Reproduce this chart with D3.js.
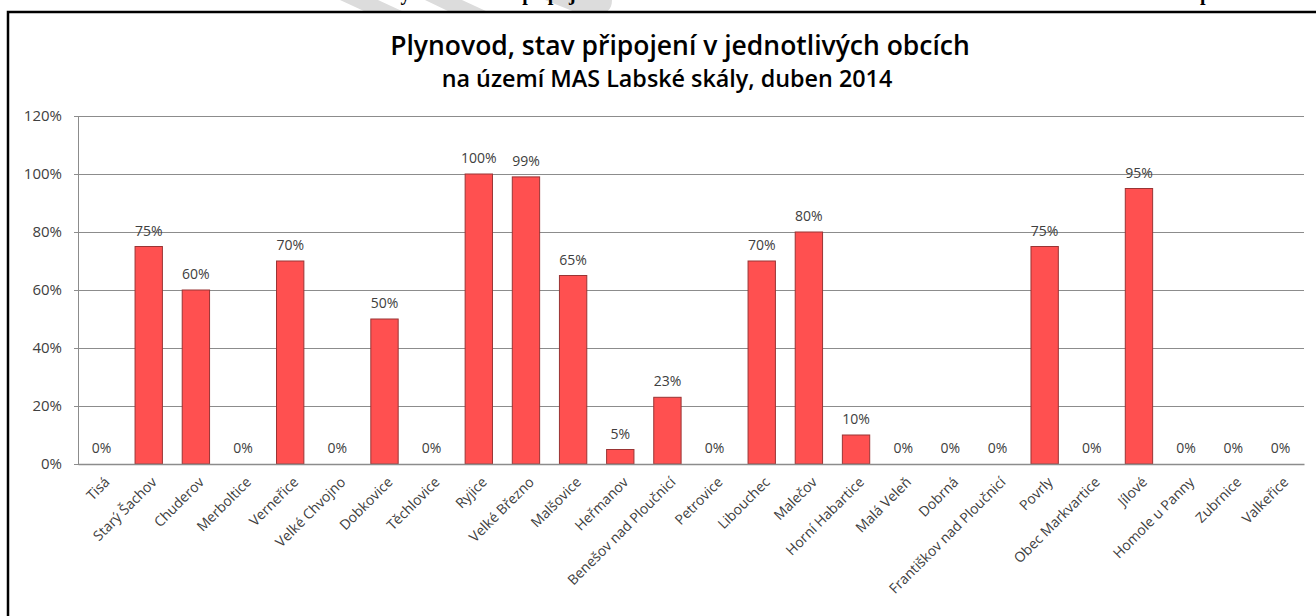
<!DOCTYPE html>
<html>
<head>
<meta charset="utf-8">
<script src="https://cdn.jsdelivr.net/npm/d3@7"></script>
<style>
  html, body { margin: 0; padding: 0; background: #ffffff; }
  svg { display: block; }
  text { font-family: "Open Sans", "DejaVu Sans", sans-serif; }
</style>
</head>
<body>
<svg id="chart" width="1316" height="616"></svg>
<script>
// ---------------- data ----------------
const categories = [
  "Tisá", "Starý Šachov", "Chuderov", "Merboltice", "Verneřice", "Velké Chvojno",
  "Dobkovice", "Těchlovice", "Ryjice", "Velké Březno", "Malšovice", "Heřmanov",
  "Benešov nad Ploučnicí", "Petrovice", "Libouchec", "Malečov", "Horní Habartice",
  "Malá Veleň", "Dobrná", "Františkov nad Ploučnicí", "Povrly", "Obec Markvartice",
  "Jílové", "Homole u Panny", "Zubrnice", "Valkeřice"
];
const values = [0, 75, 60, 0, 70, 0, 50, 0, 100, 99, 65, 5, 23, 0, 70, 80, 10, 0, 0, 0, 75, 0, 95, 0, 0, 0];
const yTicks = [0, 20, 40, 60, 80, 100, 120];
const titleLines = ["Plynovod, stav připojení v jednotlivých obcích", "na území MAS Labské skály, duben 2014"];
const pageHeadingA = "Graf 7: Plynovod – stav připojení v obcích na území MAS";
const pageHeadingB = "podle obcí";

// ---------------- layout ----------------
const svg = d3.select("#chart");
const plot = { left: 78, right: 1304, top: 116, bottom: 464 };

const x = d3.scaleBand()
  .domain(categories)
  .range([plot.left, plot.right])
  .paddingInner(0.42)
  .paddingOuter(0.21);

const y = d3.scaleLinear()
  .domain([0, 120])
  .range([plot.bottom, plot.top]);

// page background remnants above the chart box (watermark + cut heading of the page)
const headG = svg.append("g");
headG.append("clipPath").attr("id", "topclip")
  .append("rect").attr("x", 0).attr("y", 0).attr("width", 1316).attr("height", 11);
const headClip = headG.append("g").attr("clip-path", "url(#topclip)");
headClip.append("path").attr("fill", "#dcdcdc")
  .attr("d", "M340,0 L378,0 L404,12 L366,12 Z M425,0 L462,0 L488,12 L450,12 Z M545,0 L612,0 C612,6 610,10 606,12 L575,12 Z");
headClip.append("text")
  .attr("x", 315).attr("y", 0)
  .style("font-family", "'Liberation Serif', 'DejaVu Serif', serif")
  .style("font-weight", "bold")
  .style("font-size", "20px")
  .attr("fill", "#000")
  .text(pageHeadingA);
headClip.append("text")
  .attr("x", 1200).attr("y", 0)
  .style("font-family", "'Liberation Serif', 'DejaVu Serif', serif")
  .style("font-weight", "bold")
  .style("font-size", "20px")
  .attr("fill", "#000")
  .text(pageHeadingB);

// chart box border
svg.append("path")
  .attr("d", "M8,616 L8,12 L1316,12")
  .attr("fill", "none")
  .attr("stroke", "#000")
  .attr("stroke-width", 2.5);

// title
function fitText(sel, targetWidth, startSize) {
  let size = startSize;
  sel.style("font-size", size + "px");
  const w = sel.node().getComputedTextLength();
  if (w > 0) {
    size = size * targetWidth / w;
    sel.style("font-size", size + "px");
  }
}
const t1 = svg.append("text")
  .attr("x", 680).attr("y", 55)
  .attr("text-anchor", "middle")
  .attr("fill", "#000")
  .style("font-weight", "600")
  .text(titleLines[0]);
fitText(t1, 580, 24);
const t2 = svg.append("text")
  .attr("x", 667).attr("y", 87)
  .attr("text-anchor", "middle")
  .attr("fill", "#000")
  .style("font-weight", "600")
  .text(titleLines[1]);
fitText(t2, 451, 20);

// gridlines
svg.append("g")
  .selectAll("line")
  .data(yTicks.filter(d => d > 0))
  .join("line")
  .attr("x1", plot.left).attr("x2", plot.right)
  .attr("y1", d => y(d)).attr("y2", d => y(d))
  .attr("stroke", "#8c8c8c")
  .attr("stroke-width", 1)
  .attr("shape-rendering", "crispEdges");

// y axis
const yAxis = d3.axisLeft(y)
  .tickValues(yTicks)
  .tickFormat(d => d + "%")
  .tickSize(4)
  .tickPadding(12);
const yg = svg.append("g")
  .attr("transform", `translate(${plot.left},0)`)
  .call(yAxis);
yg.select(".domain").attr("stroke", "#8c8c8c").attr("shape-rendering", "crispEdges");
yg.selectAll(".tick line").attr("stroke", "#8c8c8c").attr("shape-rendering", "crispEdges");
yg.selectAll(".tick text")
  .attr("fill", "#404040")
  .style("font-size", "15px")
  .style("font-family", "'Open Sans', sans-serif");

// bars
svg.append("g")
  .selectAll("rect")
  .data(values)
  .join("rect")
  .attr("x", (d, i) => x(categories[i]))
  .attr("width", x.bandwidth())
  .attr("y", d => y(d))
  .attr("height", d => y(0) - y(d))
  .attr("fill", "#ff5050")
  .attr("stroke", "#9a3434")
  .attr("stroke-width", 1);

// x axis line
const xAxis = d3.axisBottom(x).tickSize(0).tickFormat("");
const xg = svg.append("g")
  .attr("transform", `translate(0,${plot.bottom})`)
  .call(xAxis);
xg.select(".domain").attr("stroke", "#8c8c8c").attr("stroke-width", 1.5);

// category labels
svg.append("g")
  .selectAll("text")
  .data(categories)
  .join("text")
  .attr("transform", d => `translate(${x(d) + x.bandwidth() / 2 + 9},${plot.bottom + 19}) rotate(-45)`)
  .attr("text-anchor", "end")
  .attr("fill", "#404040")
  .style("font-size", "14px")
  .text(d => d);

// value labels
svg.append("g")
  .selectAll("text")
  .data(values)
  .join("text")
  .attr("x", (d, i) => x(categories[i]) + x.bandwidth() / 2)
  .attr("y", d => y(d) - 11)
  .attr("text-anchor", "middle")
  .attr("fill", "#404040")
  .style("font-size", "14px")
  .text(d => d + "%");
</script>
</body>
</html>
